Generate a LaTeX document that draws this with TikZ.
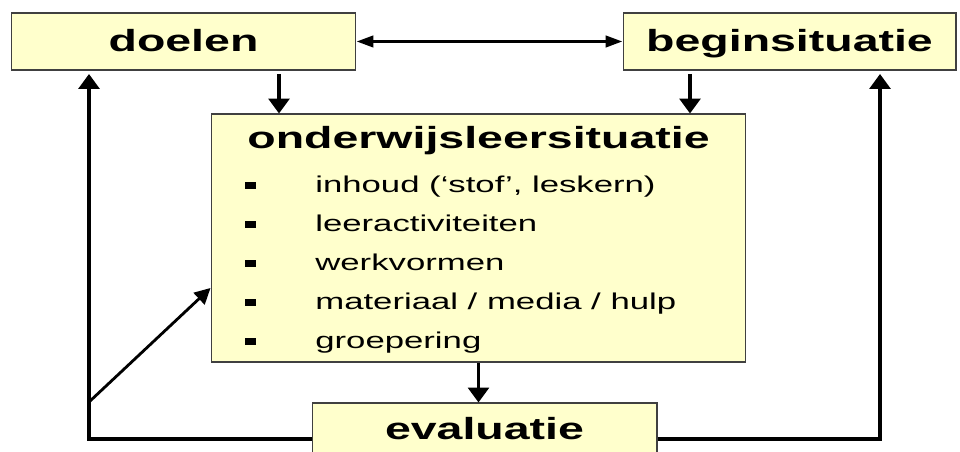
\documentclass[tikz,border=0pt]{standalone}
\usepackage{fontspec}
\setmainfont{Liberation Sans}
\newfontfamily\breed[FakeStretch=1.52]{Liberation Sans}
\usetikzlibrary{arrows.meta}

\definecolor{geel}{HTML}{FFFFCC}

\tikzset{
  vak/.style={rectangle, draw=black!75, line width=0.6pt, fill=geel, inner sep=0pt,
    font=\breed\bfseries\fontsize{17.4}{20}\selectfont,
    text height=11.9pt, text depth=0pt, minimum height=1.14cm},
  titel/.style={anchor=base, inner sep=0pt, font=\breed\bfseries\fontsize{17.4}{20}\selectfont},
  item/.style={anchor=base west, inner sep=0pt, font=\breed\fontsize{13}{15}\selectfont},
  pijl/.style={line width=1.85pt, -{Triangle[length=8.5pt, width=11.9pt]}},
  hpijl/.style={line width=1.85pt, {Triangle[length=9.6pt, width=6.4pt]}-{Triangle[length=9.6pt, width=6.4pt]}},
  dpijl/.style={line width=1.6pt, -{Triangle[length=9pt, width=9pt]}}
}

\begin{document}
\begin{tikzpicture}[x=0.02cm, y=-0.02cm]

\useasboundingbox (0,0) rectangle (960,452);
\clip (0,0) rectangle (960,452);

\node [vak, minimum width=6.9cm] (doelen) at (183.5,41.5) {doelen};
\node [vak, minimum width=6.66cm] (begin) at (789.5,41.5) {beginsituatie};
\node [vak, minimum width=10.7cm, minimum height=4.96cm] (ows) at (478.5,238) {};
\node [vak, minimum width=6.9cm, text height=8.8pt] (eval) at (484.5,431.5) {evaluatie};

\node [titel] (owstitel) at (478.5,149) {onderwijsleersituatie};

\foreach \tekst [count=\i] in {{inhoud (‘stof’, leskern)}, leeractiviteiten, werkvormen,
    materiaal / media / hulp, groepering} {
  \pgfmathsetmacro\b{193+39*(\i-1)}
  \fill (245,\b-11) rectangle ++(11,7.5);
  \node [item] (item\i) at (315,\b) {\tekst};
}

\coordinate (dA) at (279,74);
\coordinate (bA) at (690,74);
\coordinate (lo) at (89,439);
\coordinate (lb) at (89,74);
\coordinate (ro) at (880,439);
\coordinate (rb) at (880,74);
\coordinate (dg) at (89,402);

\draw [hpijl] (doelen) -- (begin);
\draw [pijl] (dA) -- (dA |- ows.north);
\draw [pijl] (bA) -- (bA |- ows.north);
\draw [pijl] (ows.south) -- (ows.south |- eval.north);

\draw [pijl] (eval.west |- lo) -- (lo) -- (lb);
\draw [pijl] (eval.east |- ro) -- (ro) -- (rb);
\draw [dpijl] (dg) -- ([yshift=-1cm]ows.west);

\end{tikzpicture}
\end{document}
